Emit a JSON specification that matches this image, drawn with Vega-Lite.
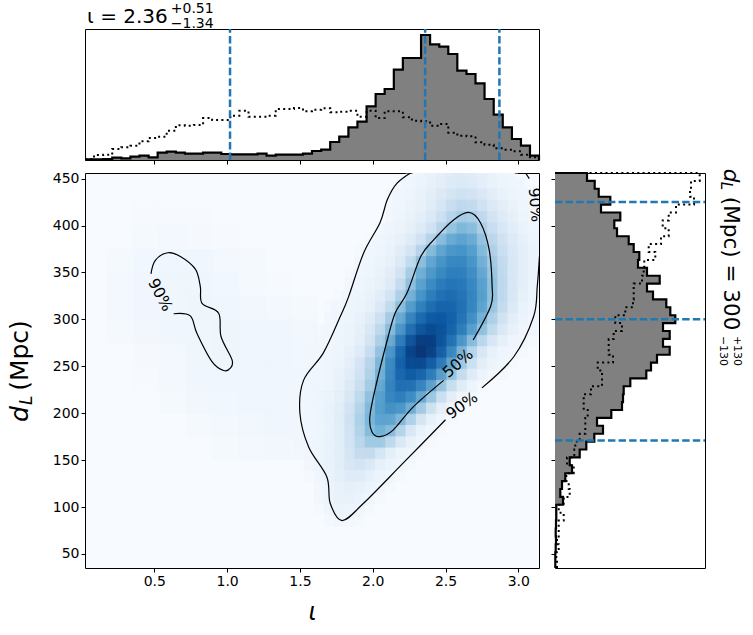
{"$schema":"https://vega.github.io/schema/vega-lite/v6.json","padding":{"left":7,"top":1,"right":0,"bottom":0},"background":"white","config":{"font":"DejaVu Sans","view":{"stroke":"black","strokeWidth":1},"axis":{"grid":false,"domain":false,"tickColor":"black","tickSize":4,"tickWidth":1,"labelColor":"black","labelFontSize":14,"labelFont":"DejaVu Sans","titleFont":"DejaVu Sans","titleColor":"black"}},"datasets":{"top":[{"x":0.024,"h":0.7,"t":1},{"x":0.086,"h":0.7,"t":5},{"x":0.149,"h":1,"t":5.3},{"x":0.211,"h":2.3,"t":11},{"x":0.273,"h":1.7,"t":12.7},{"x":0.336,"h":3.3,"t":14.3},{"x":0.398,"h":4.3,"t":18.7},{"x":0.461,"h":2.7,"t":22},{"x":0.523,"h":7.3,"t":23.3},{"x":0.585,"h":8.3,"t":29.3},{"x":0.648,"h":7.3,"t":34.7},{"x":0.71,"h":6.3,"t":34.3},{"x":0.772,"h":6.3,"t":35},{"x":0.835,"h":7.3,"t":42},{"x":0.897,"h":7.3,"t":40},{"x":0.96,"h":6,"t":40},{"x":1.022,"h":5.7,"t":44.3},{"x":1.084,"h":5.7,"t":49.3},{"x":1.147,"h":5.7,"t":43.3},{"x":1.209,"h":6.3,"t":43.3},{"x":1.271,"h":4.3,"t":44.3},{"x":1.334,"h":5.3,"t":51},{"x":1.396,"h":5.3,"t":51},{"x":1.459,"h":5.3,"t":52},{"x":1.521,"h":6.3,"t":48.7},{"x":1.583,"h":9,"t":50.3},{"x":1.646,"h":10.3,"t":51.7},{"x":1.708,"h":18,"t":47.7},{"x":1.77,"h":23.3,"t":48.3},{"x":1.833,"h":32.7,"t":49.3},{"x":1.895,"h":38.3,"t":43.3},{"x":1.958,"h":53.7,"t":49.3},{"x":2.02,"h":66,"t":42},{"x":2.082,"h":71,"t":48.7},{"x":2.145,"h":90.3,"t":48.7},{"x":2.207,"h":102,"t":42.7},{"x":2.269,"h":102,"t":39.3},{"x":2.332,"h":125,"t":38.7},{"x":2.394,"h":115.7,"t":34.3},{"x":2.457,"h":113.3,"t":36},{"x":2.519,"h":106,"t":27.3},{"x":2.581,"h":89.3,"t":24.3},{"x":2.644,"h":86,"t":23.7},{"x":2.706,"h":76.7,"t":17.7},{"x":2.768,"h":61,"t":15.3},{"x":2.831,"h":45.3,"t":11.7},{"x":2.893,"h":32.7,"t":10.3},{"x":2.956,"h":21,"t":8.7},{"x":3.018,"h":14.3,"t":5.3},{"x":3.08,"h":4.3,"t":2.7},{"x":3.142,"h":0,"t":0}],"side":[{"y":35,"g":0.3,"t":2},{"y":43.4,"g":0.3,"t":1.3},{"y":51.8,"g":0.7,"t":3.7},{"y":60.3,"g":1,"t":2},{"y":68.7,"g":0.7,"t":3.7},{"y":77.1,"g":1,"t":3.7},{"y":85.5,"g":1.3,"t":8.7},{"y":93.9,"g":1.3,"t":3.7},{"y":102.4,"g":8,"t":8.7},{"y":110.8,"g":5.3,"t":14.7},{"y":119.2,"g":7,"t":13.7},{"y":127.6,"g":10.3,"t":11.3},{"y":136,"g":17,"t":18.7},{"y":144.5,"g":14.7,"t":12},{"y":152.9,"g":24.7,"t":19.3},{"y":161.3,"g":31.3,"t":20.3},{"y":169.7,"g":39.3,"t":24.7},{"y":178.1,"g":48,"t":30.3},{"y":186.6,"g":42,"t":30.3},{"y":195,"g":56.3,"t":32.7},{"y":203.4,"g":67,"t":28.7},{"y":211.8,"g":68,"t":28.7},{"y":220.2,"g":68.7,"t":36},{"y":228.7,"g":75.3,"t":47},{"y":237.1,"g":91.3,"t":47},{"y":245.5,"g":96,"t":42.7},{"y":253.9,"g":102,"t":58},{"y":262.3,"g":114.7,"t":53.7},{"y":270.8,"g":108,"t":53.7},{"y":279.2,"g":114.7,"t":58.7},{"y":287.6,"g":108,"t":67},{"y":296,"g":120.3,"t":60.3},{"y":304.4,"g":115.3,"t":70.3},{"y":312.9,"g":111.3,"t":78},{"y":321.3,"g":98,"t":78.7},{"y":329.7,"g":92,"t":78.7},{"y":338.1,"g":104.7,"t":87},{"y":346.5,"g":92,"t":88.7},{"y":355,"g":83,"t":89.3},{"y":363.4,"g":84.3,"t":100.3},{"y":371.8,"g":78.7,"t":93.7},{"y":380.2,"g":73.7,"t":106},{"y":388.6,"g":62,"t":113.7},{"y":397.1,"g":59.3,"t":107.7},{"y":405.5,"g":65.3,"t":113.7},{"y":413.9,"g":46,"t":121},{"y":422.3,"g":55.3,"t":139},{"y":430.7,"g":43.7,"t":135},{"y":439.2,"g":39.7,"t":136},{"y":447.6,"g":32,"t":144.7},{"y":456,"g":0,"t":0}],"coarse":[{"x":0.54,"y":400,"v":1},{"x":0.72,"y":400,"v":1},{"x":0.54,"y":375,"v":2},{"x":0.72,"y":375,"v":2},{"x":0.9,"y":375,"v":1},{"x":0.36,"y":350,"v":2},{"x":0.54,"y":350,"v":3},{"x":0.72,"y":350,"v":4},{"x":0.9,"y":350,"v":3},{"x":1.08,"y":350,"v":2},{"x":0.36,"y":325,"v":2},{"x":0.54,"y":325,"v":3},{"x":0.72,"y":325,"v":4},{"x":0.9,"y":325,"v":3},{"x":1.08,"y":325,"v":2},{"x":1.26,"y":325,"v":1},{"x":0.36,"y":300,"v":2},{"x":0.54,"y":300,"v":3},{"x":0.72,"y":300,"v":4},{"x":0.9,"y":300,"v":4},{"x":1.08,"y":300,"v":3},{"x":1.26,"y":300,"v":2},{"x":1.44,"y":300,"v":2},{"x":0.54,"y":275,"v":2},{"x":0.72,"y":275,"v":3},{"x":0.9,"y":275,"v":4},{"x":1.08,"y":275,"v":4},{"x":1.26,"y":275,"v":3},{"x":1.44,"y":275,"v":3},{"x":0.54,"y":250,"v":1},{"x":0.72,"y":250,"v":2},{"x":0.9,"y":250,"v":4},{"x":1.08,"y":250,"v":4},{"x":1.26,"y":250,"v":3},{"x":1.44,"y":250,"v":3},{"x":0.72,"y":225,"v":2},{"x":0.9,"y":225,"v":3},{"x":1.08,"y":225,"v":3},{"x":1.26,"y":225,"v":3},{"x":1.44,"y":225,"v":3},{"x":0.9,"y":200,"v":2},{"x":1.08,"y":200,"v":2},{"x":1.26,"y":200,"v":3},{"x":1.44,"y":200,"v":3},{"x":1.08,"y":175,"v":2},{"x":1.26,"y":175,"v":2},{"x":1.44,"y":175,"v":3}],"cells":[{"x":1.75,"y":96,"v":4},{"x":1.82,"y":96,"v":4},{"x":1.89,"y":96,"v":3},{"x":1.68,"y":108,"v":3},{"x":1.75,"y":108,"v":5},{"x":1.82,"y":108,"v":5},{"x":1.89,"y":108,"v":4},{"x":1.96,"y":108,"v":3},{"x":1.68,"y":120,"v":3},{"x":1.75,"y":120,"v":5},{"x":1.82,"y":120,"v":6},{"x":1.89,"y":120,"v":6},{"x":1.96,"y":120,"v":4},{"x":2.03,"y":120,"v":3},{"x":1.68,"y":132,"v":3},{"x":1.75,"y":132,"v":5},{"x":1.82,"y":132,"v":7},{"x":1.89,"y":132,"v":8},{"x":1.96,"y":132,"v":6},{"x":2.03,"y":132,"v":4},{"x":2.1,"y":132,"v":3},{"x":1.61,"y":144,"v":3},{"x":1.68,"y":144,"v":4},{"x":1.75,"y":144,"v":6},{"x":1.82,"y":144,"v":9},{"x":1.89,"y":144,"v":11},{"x":1.96,"y":144,"v":10},{"x":2.03,"y":144,"v":6},{"x":2.1,"y":144,"v":4},{"x":2.17,"y":144,"v":3},{"x":1.61,"y":156,"v":3},{"x":1.68,"y":156,"v":4},{"x":1.75,"y":156,"v":6},{"x":1.82,"y":156,"v":10},{"x":1.89,"y":156,"v":15},{"x":1.96,"y":156,"v":16},{"x":2.03,"y":156,"v":11},{"x":2.1,"y":156,"v":6},{"x":2.17,"y":156,"v":4},{"x":2.24,"y":156,"v":3},{"x":1.54,"y":168,"v":3},{"x":1.61,"y":168,"v":3},{"x":1.68,"y":168,"v":4},{"x":1.75,"y":168,"v":6},{"x":1.82,"y":168,"v":10},{"x":1.89,"y":168,"v":17},{"x":1.96,"y":168,"v":24},{"x":2.03,"y":168,"v":22},{"x":2.1,"y":168,"v":13},{"x":2.17,"y":168,"v":7},{"x":2.24,"y":168,"v":4},{"x":2.31,"y":168,"v":3},{"x":1.54,"y":180,"v":3},{"x":1.61,"y":180,"v":3},{"x":1.68,"y":180,"v":4},{"x":1.75,"y":180,"v":6},{"x":1.82,"y":180,"v":10},{"x":1.89,"y":180,"v":18},{"x":1.96,"y":180,"v":28},{"x":2.03,"y":180,"v":36},{"x":2.1,"y":180,"v":35},{"x":2.17,"y":180,"v":22},{"x":2.24,"y":180,"v":11},{"x":2.31,"y":180,"v":5},{"x":2.38,"y":180,"v":3},{"x":1.54,"y":192,"v":3},{"x":1.61,"y":192,"v":3},{"x":1.68,"y":192,"v":4},{"x":1.75,"y":192,"v":6},{"x":1.82,"y":192,"v":10},{"x":1.89,"y":192,"v":19},{"x":1.96,"y":192,"v":31},{"x":2.03,"y":192,"v":42},{"x":2.1,"y":192,"v":44},{"x":2.17,"y":192,"v":37},{"x":2.24,"y":192,"v":22},{"x":2.31,"y":192,"v":10},{"x":2.38,"y":192,"v":5},{"x":2.45,"y":192,"v":3},{"x":1.54,"y":204,"v":3},{"x":1.61,"y":204,"v":3},{"x":1.68,"y":204,"v":4},{"x":1.75,"y":204,"v":6},{"x":1.82,"y":204,"v":11},{"x":1.89,"y":204,"v":20},{"x":1.96,"y":204,"v":32},{"x":2.03,"y":204,"v":44},{"x":2.1,"y":204,"v":50},{"x":2.17,"y":204,"v":48},{"x":2.24,"y":204,"v":39},{"x":2.31,"y":204,"v":25},{"x":2.38,"y":204,"v":12},{"x":2.45,"y":204,"v":5},{"x":2.52,"y":204,"v":3},{"x":1.54,"y":216,"v":3},{"x":1.61,"y":216,"v":3},{"x":1.68,"y":216,"v":4},{"x":1.75,"y":216,"v":6},{"x":1.82,"y":216,"v":10},{"x":1.89,"y":216,"v":17},{"x":1.96,"y":216,"v":28},{"x":2.03,"y":216,"v":42},{"x":2.1,"y":216,"v":54},{"x":2.17,"y":216,"v":58},{"x":2.24,"y":216,"v":54},{"x":2.31,"y":216,"v":43},{"x":2.38,"y":216,"v":28},{"x":2.45,"y":216,"v":14},{"x":2.52,"y":216,"v":6},{"x":2.59,"y":216,"v":3},{"x":1.54,"y":228,"v":3},{"x":1.61,"y":228,"v":3},{"x":1.68,"y":228,"v":4},{"x":1.75,"y":228,"v":5},{"x":1.82,"y":228,"v":8},{"x":1.89,"y":228,"v":14},{"x":1.96,"y":228,"v":24},{"x":2.03,"y":228,"v":38},{"x":2.1,"y":228,"v":54},{"x":2.17,"y":228,"v":64},{"x":2.24,"y":228,"v":65},{"x":2.31,"y":228,"v":56},{"x":2.38,"y":228,"v":44},{"x":2.45,"y":228,"v":30},{"x":2.52,"y":228,"v":15},{"x":2.59,"y":228,"v":7},{"x":2.66,"y":228,"v":3},{"x":1.54,"y":240,"v":3},{"x":1.61,"y":240,"v":3},{"x":1.68,"y":240,"v":3},{"x":1.75,"y":240,"v":5},{"x":1.82,"y":240,"v":7},{"x":1.89,"y":240,"v":12},{"x":1.96,"y":240,"v":20},{"x":2.03,"y":240,"v":33},{"x":2.1,"y":240,"v":50},{"x":2.17,"y":240,"v":67},{"x":2.24,"y":240,"v":74},{"x":2.31,"y":240,"v":71},{"x":2.38,"y":240,"v":60},{"x":2.45,"y":240,"v":47},{"x":2.52,"y":240,"v":31},{"x":2.59,"y":240,"v":17},{"x":2.66,"y":240,"v":8},{"x":2.73,"y":240,"v":3},{"x":1.61,"y":252,"v":3},{"x":1.68,"y":252,"v":3},{"x":1.75,"y":252,"v":4},{"x":1.82,"y":252,"v":6},{"x":1.89,"y":252,"v":10},{"x":1.96,"y":252,"v":18},{"x":2.03,"y":252,"v":30},{"x":2.1,"y":252,"v":47},{"x":2.17,"y":252,"v":66},{"x":2.24,"y":252,"v":80},{"x":2.31,"y":252,"v":83},{"x":2.38,"y":252,"v":76},{"x":2.45,"y":252,"v":63},{"x":2.52,"y":252,"v":47},{"x":2.59,"y":252,"v":31},{"x":2.66,"y":252,"v":17},{"x":2.73,"y":252,"v":8},{"x":2.8,"y":252,"v":4},{"x":2.87,"y":252,"v":3},{"x":1.61,"y":264,"v":3},{"x":1.68,"y":264,"v":3},{"x":1.75,"y":264,"v":4},{"x":1.82,"y":264,"v":5},{"x":1.89,"y":264,"v":9},{"x":1.96,"y":264,"v":16},{"x":2.03,"y":264,"v":28},{"x":2.1,"y":264,"v":45},{"x":2.17,"y":264,"v":66},{"x":2.24,"y":264,"v":85},{"x":2.31,"y":264,"v":93},{"x":2.38,"y":264,"v":90},{"x":2.45,"y":264,"v":78},{"x":2.52,"y":264,"v":62},{"x":2.59,"y":264,"v":43},{"x":2.66,"y":264,"v":27},{"x":2.73,"y":264,"v":14},{"x":2.8,"y":264,"v":7},{"x":2.87,"y":264,"v":4},{"x":2.94,"y":264,"v":3},{"x":1.68,"y":276,"v":3},{"x":1.75,"y":276,"v":3},{"x":1.82,"y":276,"v":4},{"x":1.89,"y":276,"v":6},{"x":1.96,"y":276,"v":10},{"x":2.03,"y":276,"v":21},{"x":2.1,"y":276,"v":37},{"x":2.17,"y":276,"v":59},{"x":2.24,"y":276,"v":81},{"x":2.31,"y":276,"v":96},{"x":2.38,"y":276,"v":100},{"x":2.45,"y":276,"v":91},{"x":2.52,"y":276,"v":74},{"x":2.59,"y":276,"v":54},{"x":2.66,"y":276,"v":35},{"x":2.73,"y":276,"v":20},{"x":2.8,"y":276,"v":10},{"x":2.87,"y":276,"v":5},{"x":2.94,"y":276,"v":3},{"x":3.01,"y":276,"v":3},{"x":1.68,"y":288,"v":3},{"x":1.75,"y":288,"v":3},{"x":1.82,"y":288,"v":4},{"x":1.89,"y":288,"v":5},{"x":1.96,"y":288,"v":9},{"x":2.03,"y":288,"v":17},{"x":2.1,"y":288,"v":30},{"x":2.17,"y":288,"v":48},{"x":2.24,"y":288,"v":68},{"x":2.31,"y":288,"v":86},{"x":2.38,"y":288,"v":94},{"x":2.45,"y":288,"v":90},{"x":2.52,"y":288,"v":79},{"x":2.59,"y":288,"v":65},{"x":2.66,"y":288,"v":50},{"x":2.73,"y":288,"v":35},{"x":2.8,"y":288,"v":21},{"x":2.87,"y":288,"v":11},{"x":2.94,"y":288,"v":6},{"x":3.01,"y":288,"v":3},{"x":3.08,"y":288,"v":3},{"x":1.75,"y":300,"v":3},{"x":1.82,"y":300,"v":4},{"x":1.89,"y":300,"v":5},{"x":1.96,"y":300,"v":8},{"x":2.03,"y":300,"v":14},{"x":2.1,"y":300,"v":25},{"x":2.17,"y":300,"v":39},{"x":2.24,"y":300,"v":56},{"x":2.31,"y":300,"v":71},{"x":2.38,"y":300,"v":82},{"x":2.45,"y":300,"v":86},{"x":2.52,"y":300,"v":82},{"x":2.59,"y":300,"v":72},{"x":2.66,"y":300,"v":60},{"x":2.73,"y":300,"v":46},{"x":2.8,"y":300,"v":31},{"x":2.87,"y":300,"v":19},{"x":2.94,"y":300,"v":10},{"x":3.01,"y":300,"v":5},{"x":3.08,"y":300,"v":3},{"x":3.15,"y":300,"v":3},{"x":1.75,"y":312,"v":3},{"x":1.82,"y":312,"v":3},{"x":1.89,"y":312,"v":4},{"x":1.96,"y":312,"v":6},{"x":2.03,"y":312,"v":10},{"x":2.1,"y":312,"v":18},{"x":2.17,"y":312,"v":33},{"x":2.24,"y":312,"v":48},{"x":2.31,"y":312,"v":63},{"x":2.38,"y":312,"v":73},{"x":2.45,"y":312,"v":79},{"x":2.52,"y":312,"v":80},{"x":2.59,"y":312,"v":74},{"x":2.66,"y":312,"v":64},{"x":2.73,"y":312,"v":51},{"x":2.8,"y":312,"v":36},{"x":2.87,"y":312,"v":22},{"x":2.94,"y":312,"v":12},{"x":3.01,"y":312,"v":6},{"x":3.08,"y":312,"v":4},{"x":3.15,"y":312,"v":3},{"x":1.82,"y":324,"v":3},{"x":1.89,"y":324,"v":4},{"x":1.96,"y":324,"v":5},{"x":2.03,"y":324,"v":7},{"x":2.1,"y":324,"v":12},{"x":2.17,"y":324,"v":22},{"x":2.24,"y":324,"v":38},{"x":2.31,"y":324,"v":51},{"x":2.38,"y":324,"v":62},{"x":2.45,"y":324,"v":70},{"x":2.52,"y":324,"v":74},{"x":2.59,"y":324,"v":72},{"x":2.66,"y":324,"v":66},{"x":2.73,"y":324,"v":56},{"x":2.8,"y":324,"v":42},{"x":2.87,"y":324,"v":28},{"x":2.94,"y":324,"v":16},{"x":3.01,"y":324,"v":8},{"x":3.08,"y":324,"v":4},{"x":3.15,"y":324,"v":3},{"x":1.89,"y":336,"v":3},{"x":1.96,"y":336,"v":4},{"x":2.03,"y":336,"v":6},{"x":2.1,"y":336,"v":9},{"x":2.17,"y":336,"v":15},{"x":2.24,"y":336,"v":30},{"x":2.31,"y":336,"v":44},{"x":2.38,"y":336,"v":55},{"x":2.45,"y":336,"v":64},{"x":2.52,"y":336,"v":69},{"x":2.59,"y":336,"v":69},{"x":2.66,"y":336,"v":64},{"x":2.73,"y":336,"v":55},{"x":2.8,"y":336,"v":43},{"x":2.87,"y":336,"v":28},{"x":2.94,"y":336,"v":17},{"x":3.01,"y":336,"v":10},{"x":3.08,"y":336,"v":5},{"x":3.15,"y":336,"v":4},{"x":1.89,"y":348,"v":3},{"x":1.96,"y":348,"v":3},{"x":2.03,"y":348,"v":5},{"x":2.1,"y":348,"v":7},{"x":2.17,"y":348,"v":11},{"x":2.24,"y":348,"v":23},{"x":2.31,"y":348,"v":38},{"x":2.38,"y":348,"v":50},{"x":2.45,"y":348,"v":58},{"x":2.52,"y":348,"v":64},{"x":2.59,"y":348,"v":66},{"x":2.66,"y":348,"v":62},{"x":2.73,"y":348,"v":54},{"x":2.8,"y":348,"v":42},{"x":2.87,"y":348,"v":28},{"x":2.94,"y":348,"v":17},{"x":3.01,"y":348,"v":10},{"x":3.08,"y":348,"v":6},{"x":3.15,"y":348,"v":4},{"x":1.96,"y":360,"v":3},{"x":2.03,"y":360,"v":4},{"x":2.1,"y":360,"v":6},{"x":2.17,"y":360,"v":9},{"x":2.24,"y":360,"v":17},{"x":2.31,"y":360,"v":33},{"x":2.38,"y":360,"v":44},{"x":2.45,"y":360,"v":52},{"x":2.52,"y":360,"v":58},{"x":2.59,"y":360,"v":62},{"x":2.66,"y":360,"v":59},{"x":2.73,"y":360,"v":51},{"x":2.8,"y":360,"v":38},{"x":2.87,"y":360,"v":26},{"x":2.94,"y":360,"v":17},{"x":3.01,"y":360,"v":10},{"x":3.08,"y":360,"v":6},{"x":3.15,"y":360,"v":4},{"x":1.96,"y":372,"v":3},{"x":2.03,"y":372,"v":3},{"x":2.1,"y":372,"v":5},{"x":2.17,"y":372,"v":7},{"x":2.24,"y":372,"v":12},{"x":2.31,"y":372,"v":22},{"x":2.38,"y":372,"v":38},{"x":2.45,"y":372,"v":47},{"x":2.52,"y":372,"v":54},{"x":2.59,"y":372,"v":58},{"x":2.66,"y":372,"v":56},{"x":2.73,"y":372,"v":48},{"x":2.8,"y":372,"v":35},{"x":2.87,"y":372,"v":24},{"x":2.94,"y":372,"v":16},{"x":3.01,"y":372,"v":10},{"x":3.08,"y":372,"v":6},{"x":3.15,"y":372,"v":4},{"x":2.03,"y":384,"v":3},{"x":2.1,"y":384,"v":4},{"x":2.17,"y":384,"v":6},{"x":2.24,"y":384,"v":9},{"x":2.31,"y":384,"v":14},{"x":2.38,"y":384,"v":25},{"x":2.45,"y":384,"v":38},{"x":2.52,"y":384,"v":46},{"x":2.59,"y":384,"v":51},{"x":2.66,"y":384,"v":51},{"x":2.73,"y":384,"v":44},{"x":2.8,"y":384,"v":30},{"x":2.87,"y":384,"v":21},{"x":2.94,"y":384,"v":14},{"x":3.01,"y":384,"v":9},{"x":3.08,"y":384,"v":6},{"x":3.15,"y":384,"v":4},{"x":2.1,"y":396,"v":3},{"x":2.17,"y":396,"v":5},{"x":2.24,"y":396,"v":7},{"x":2.31,"y":396,"v":10},{"x":2.38,"y":396,"v":15},{"x":2.45,"y":396,"v":24},{"x":2.52,"y":396,"v":37},{"x":2.59,"y":396,"v":43},{"x":2.66,"y":396,"v":45},{"x":2.73,"y":396,"v":38},{"x":2.8,"y":396,"v":26},{"x":2.87,"y":396,"v":18},{"x":2.94,"y":396,"v":12},{"x":3.01,"y":396,"v":8},{"x":3.08,"y":396,"v":5},{"x":3.15,"y":396,"v":4},{"x":2.17,"y":408,"v":3},{"x":2.24,"y":408,"v":5},{"x":2.31,"y":408,"v":7},{"x":2.38,"y":408,"v":10},{"x":2.45,"y":408,"v":15},{"x":2.52,"y":408,"v":23},{"x":2.59,"y":408,"v":32},{"x":2.66,"y":408,"v":36},{"x":2.73,"y":408,"v":30},{"x":2.8,"y":408,"v":21},{"x":2.87,"y":408,"v":14},{"x":2.94,"y":408,"v":10},{"x":3.01,"y":408,"v":6},{"x":3.08,"y":408,"v":4},{"x":3.15,"y":408,"v":3},{"x":2.17,"y":420,"v":3},{"x":2.24,"y":420,"v":4},{"x":2.31,"y":420,"v":6},{"x":2.38,"y":420,"v":8},{"x":2.45,"y":420,"v":12},{"x":2.52,"y":420,"v":18},{"x":2.59,"y":420,"v":25},{"x":2.66,"y":420,"v":27},{"x":2.73,"y":420,"v":23},{"x":2.8,"y":420,"v":16},{"x":2.87,"y":420,"v":11},{"x":2.94,"y":420,"v":8},{"x":3.01,"y":420,"v":5},{"x":3.08,"y":420,"v":3},{"x":2.17,"y":432,"v":3},{"x":2.24,"y":432,"v":3},{"x":2.31,"y":432,"v":5},{"x":2.38,"y":432,"v":7},{"x":2.45,"y":432,"v":10},{"x":2.52,"y":432,"v":14},{"x":2.59,"y":432,"v":19},{"x":2.66,"y":432,"v":20},{"x":2.73,"y":432,"v":17},{"x":2.8,"y":432,"v":12},{"x":2.87,"y":432,"v":8},{"x":2.94,"y":432,"v":6},{"x":3.01,"y":432,"v":4},{"x":3.08,"y":432,"v":3},{"x":2.24,"y":444,"v":3},{"x":2.31,"y":444,"v":4},{"x":2.38,"y":444,"v":6},{"x":2.45,"y":444,"v":8},{"x":2.52,"y":444,"v":11},{"x":2.59,"y":444,"v":14},{"x":2.66,"y":444,"v":14},{"x":2.73,"y":444,"v":12},{"x":2.8,"y":444,"v":9},{"x":2.87,"y":444,"v":6},{"x":2.94,"y":444,"v":4},{"x":3.01,"y":444,"v":3},{"x":2.31,"y":456,"v":3},{"x":2.38,"y":456,"v":5},{"x":2.45,"y":456,"v":6},{"x":2.52,"y":456,"v":8},{"x":2.59,"y":456,"v":10},{"x":2.66,"y":456,"v":10},{"x":2.73,"y":456,"v":8},{"x":2.8,"y":456,"v":6},{"x":2.87,"y":456,"v":4},{"x":2.94,"y":456,"v":3}],"lines":[{"s":"a","o":1,"x":2.28,"y":458},{"s":"a","o":2,"x":2.166,"y":445},{"s":"a","o":3,"x":2.1,"y":427.5},{"s":"a","o":4,"x":2.05,"y":403},{"s":"a","o":5,"x":1.937,"y":370.5},{"s":"a","o":6,"x":1.834,"y":324},{"s":"a","o":7,"x":1.777,"y":303},{"s":"a","o":8,"x":1.66,"y":264},{"s":"a","o":9,"x":1.525,"y":235},{"s":"a","o":10,"x":1.5,"y":200},{"s":"a","o":11,"x":1.56,"y":164},{"s":"a","o":12,"x":1.685,"y":132},{"s":"a","o":13,"x":1.708,"y":104},{"s":"a","o":14,"x":1.79,"y":85.6},{"s":"a","o":15,"x":1.937,"y":104},{"s":"a","o":16,"x":2.21,"y":147},{"s":"a","o":17,"x":2.5,"y":193},{"s":"b","o":1,"x":2.75,"y":227},{"s":"b","o":2,"x":2.97,"y":260.4},{"s":"b","o":3,"x":3.105,"y":303},{"s":"b","o":4,"x":3.13,"y":335},{"s":"b","o":5,"x":3.145,"y":367},{"s":"c","o":1,"x":3.05,"y":456},{"s":"c","o":2,"x":3.075,"y":450},{"s":"d","o":1,"x":2.69,"y":278},{"s":"d","o":2,"x":2.81,"y":314},{"s":"d","o":3,"x":2.82,"y":335},{"s":"d","o":4,"x":2.8,"y":374},{"s":"d","o":5,"x":2.74,"y":403},{"s":"d","o":6,"x":2.66,"y":414},{"s":"d","o":7,"x":2.555,"y":406},{"s":"d","o":8,"x":2.42,"y":385},{"s":"d","o":9,"x":2.33,"y":367},{"s":"d","o":10,"x":2.235,"y":328},{"s":"d","o":11,"x":2.155,"y":307},{"s":"d","o":12,"x":2.1,"y":278},{"s":"d","o":13,"x":2.02,"y":228},{"s":"d","o":14,"x":1.98,"y":196},{"s":"d","o":15,"x":1.995,"y":180},{"s":"d","o":16,"x":2.05,"y":175},{"s":"d","o":17,"x":2.14,"y":182},{"s":"d","o":18,"x":2.28,"y":207},{"s":"d","o":19,"x":2.487,"y":235},{"s":"e","o":1,"x":0.477,"y":348.5},{"s":"e","o":2,"x":0.507,"y":363},{"s":"e","o":3,"x":0.592,"y":371},{"s":"e","o":4,"x":0.679,"y":367},{"s":"e","o":5,"x":0.782,"y":353.5},{"s":"e","o":6,"x":0.816,"y":335},{"s":"e","o":7,"x":0.828,"y":317},{"s":"e","o":8,"x":0.942,"y":306.6},{"s":"e","o":9,"x":0.958,"y":281.7},{"s":"e","o":10,"x":1.034,"y":256.8},{"s":"e","o":11,"x":1.022,"y":248},{"s":"e","o":12,"x":0.976,"y":245.5},{"s":"e","o":13,"x":0.896,"y":255},{"s":"e","o":14,"x":0.793,"y":285},{"s":"e","o":15,"x":0.747,"y":303.7},{"s":"e","o":16,"x":0.633,"y":306}]},"vconcat":[{"width":454,"height":131,"layer":[{"data":{"name":"top"},"mark":{"type":"area","interpolate":"step-after","fill":"#808080"},"encoding":{"x":{"field":"x","type":"quantitative","scale":{"domain":[0.024,3.142],"nice":false,"zero":false},"axis":{"values":[0.5,1,1.5,2,2.5,3],"labels":false,"title":null}},"y":{"field":"h","type":"quantitative","scale":{"domain":[0,131],"nice":false},"axis":null}}},{"data":{"name":"top"},"mark":{"type":"line","interpolate":"step-after","stroke":"black","strokeWidth":2,"strokeDash":[2,3.3]},"encoding":{"x":{"field":"x","type":"quantitative"},"y":{"field":"t","type":"quantitative"}}},{"data":{"name":"top"},"mark":{"type":"line","interpolate":"step-after","stroke":"black","strokeWidth":2.2},"encoding":{"x":{"field":"x","type":"quantitative"},"y":{"field":"h","type":"quantitative"}}},{"data":{"values":[{"x":1.02},{"x":2.36},{"x":2.87}]},"mark":{"type":"rule","stroke":"#1f77b4","strokeWidth":2.5,"strokeDash":[7.4,3.2]},"encoding":{"x":{"field":"x","type":"quantitative"},"y":{"datum":0},"y2":{"datum":131}}},{"data":{"values":[{"x":0.038,"y":137,"t":"ι = 2.36"}]},"mark":{"type":"text","fontSize":20,"align":"left","baseline":"alphabetic","color":"black"},"encoding":{"x":{"field":"x","type":"quantitative"},"y":{"field":"y","type":"quantitative"},"text":{"field":"t"}}},{"data":{"values":[{"x":0.613,"y":147.2,"t":"+0.51"},{"x":0.613,"y":131.8,"t":"−1.34"}]},"mark":{"type":"text","fontSize":14,"align":"left","baseline":"alphabetic","color":"black"},"encoding":{"x":{"field":"x","type":"quantitative"},"y":{"field":"y","type":"quantitative"},"text":{"field":"t"}}}]},{"hconcat":[{"width":454,"height":395,"view":{"fill":"#f7fbff"},"layer":[{"data":{"name":"coarse"},"mark":{"type":"rect","width":53,"height":47,"opacity":0.5,"clip":true},"encoding":{"x":{"field":"x","type":"quantitative","scale":{"domain":[0.024,3.142],"nice":false,"zero":false},"axis":{"values":[0.5,1,1.5,2,2.5,3],"format":".1f","title":"ι","titleFontSize":24,"titleFontStyle":"italic","titleFontWeight":"normal","titlePadding":12}},"y":{"field":"y","type":"quantitative","scale":{"domain":[35,456],"nice":false,"zero":false},"axis":{"values":[50,100,150,200,250,300,350,400,450],"title":null}},"color":{"field":"v","type":"quantitative","scale":{"domain":[0,10,20,31,42,54,68,85,100],"range":["#f7fbff","#deebf7","#c6dbef","#9ecae1","#6baed6","#4292c6","#2171b5","#08519c","#08306b"]},"legend":null}}},{"data":{"name":"cells"},"mark":{"type":"rect","width":10.5,"height":11.6,"clip":true},"encoding":{"x":{"field":"x","type":"quantitative"},"y":{"field":"y","type":"quantitative"},"color":{"field":"v","type":"quantitative","legend":null}}},{"data":{"name":"cells"},"mark":{"type":"rect","width":20.6,"height":23,"opacity":0.42,"xOffset":-2,"yOffset":4,"clip":true},"encoding":{"x":{"field":"x","type":"quantitative"},"y":{"field":"y","type":"quantitative"},"color":{"field":"v","type":"quantitative","legend":null}}},{"data":{"name":"lines"},"mark":{"type":"line","interpolate":"cardinal","stroke":"black","strokeWidth":1.2,"clip":true},"encoding":{"x":{"field":"x","type":"quantitative"},"y":{"field":"y","type":"quantitative"},"detail":{"field":"s"},"order":{"field":"o","type":"quantitative"}}},{"data":{"values":[{"x":0.54,"y":326,"t":"90%"}]},"mark":{"type":"text","fontSize":15.5,"angle":62,"color":"black"},"encoding":{"x":{"field":"x","type":"quantitative"},"y":{"field":"y","type":"quantitative"},"text":{"field":"t"}}},{"data":{"values":[{"x":2.585,"y":253,"t":"50%"}]},"mark":{"type":"text","fontSize":15.5,"angle":319,"color":"black"},"encoding":{"x":{"field":"x","type":"quantitative"},"y":{"field":"y","type":"quantitative"},"text":{"field":"t"}}},{"data":{"values":[{"x":2.613,"y":208,"t":"90%"}]},"mark":{"type":"text","fontSize":15.5,"angle":324,"color":"black"},"encoding":{"x":{"field":"x","type":"quantitative"},"y":{"field":"y","type":"quantitative"},"text":{"field":"t"}}},{"data":{"values":[{"x":3.116,"y":422,"t":"90%"}]},"mark":{"type":"text","fontSize":15.5,"angle":85,"color":"black","clip":true},"encoding":{"x":{"field":"x","type":"quantitative"},"y":{"field":"y","type":"quantitative"},"text":{"field":"t"}}},{"data":{"values":[{"x":-0.367,"y":190.7,"t":"d"}]},"mark":{"type":"text","fontSize":25,"fontStyle":"italic","angle":270,"align":"left","baseline":"alphabetic","color":"black"},"encoding":{"x":{"field":"x","type":"quantitative"},"y":{"field":"y","type":"quantitative"},"text":{"field":"t"}}},{"data":{"values":[{"x":-0.34,"y":208.8,"t":"L"}]},"mark":{"type":"text","fontSize":17,"fontStyle":"italic","angle":270,"align":"left","baseline":"alphabetic","color":"black"},"encoding":{"x":{"field":"x","type":"quantitative"},"y":{"field":"y","type":"quantitative"},"text":{"field":"t"}}},{"data":{"values":[{"x":-0.367,"y":223.8,"t":"(Mpc)"}]},"mark":{"type":"text","fontSize":25,"angle":270,"align":"left","baseline":"alphabetic","color":"black"},"encoding":{"x":{"field":"x","type":"quantitative"},"y":{"field":"y","type":"quantitative"},"text":{"field":"t"}}}]},{"width":150,"height":395,"layer":[{"data":{"name":"side"},"mark":{"type":"area","orient":"horizontal","interpolate":"step-after","fill":"#808080"},"encoding":{"y":{"field":"y","type":"quantitative","scale":{"domain":[35,456],"nice":false,"zero":false},"axis":{"values":[50,100,150,200,250,300,350,400,450],"labels":false,"title":null}},"x":{"field":"g","type":"quantitative","scale":{"domain":[0,150],"nice":false},"axis":null,"stack":null}}},{"data":{"name":"side"},"mark":{"type":"line","orient":"horizontal","interpolate":"step-before","stroke":"black","strokeWidth":2,"strokeDash":[2,3.3]},"encoding":{"y":{"field":"y","type":"quantitative"},"x":{"field":"t","type":"quantitative"},"order":{"field":"y","type":"quantitative"}}},{"data":{"name":"side"},"mark":{"type":"line","orient":"horizontal","interpolate":"step-before","stroke":"black","strokeWidth":2.2},"encoding":{"y":{"field":"y","type":"quantitative"},"x":{"field":"g","type":"quantitative"},"order":{"field":"y","type":"quantitative"}}},{"data":{"values":[{"y":171},{"y":300},{"y":425}]},"mark":{"type":"rule","stroke":"#1f77b4","strokeWidth":2.5,"strokeDash":[7.4,3.2]},"encoding":{"y":{"field":"y","type":"quantitative"},"x":{"datum":0},"x2":{"datum":150}}},{"data":{"values":[{"x":169,"y":460.4,"t":"d"}]},"mark":{"type":"text","fontSize":21.5,"fontStyle":"italic","angle":90,"align":"left","baseline":"alphabetic","color":"black"},"encoding":{"x":{"field":"x","type":"quantitative"},"y":{"field":"y","type":"quantitative"},"text":{"field":"t"}}},{"data":{"values":[{"x":166,"y":446.7,"t":"L"}]},"mark":{"type":"text","fontSize":15,"fontStyle":"italic","angle":90,"align":"left","baseline":"alphabetic","color":"black"},"encoding":{"x":{"field":"x","type":"quantitative"},"y":{"field":"y","type":"quantitative"},"text":{"field":"t"}}},{"data":{"values":[{"x":169,"y":430.6,"t":"(Mpc) = 300"}]},"mark":{"type":"text","fontSize":21.5,"angle":90,"align":"left","baseline":"alphabetic","color":"black"},"encoding":{"x":{"field":"x","type":"quantitative"},"y":{"field":"y","type":"quantitative"},"text":{"field":"t"}}},{"data":{"values":[{"x":179,"y":282.4,"t":"+130"},{"x":165,"y":282.4,"t":"−130"}]},"mark":{"type":"text","fontSize":11,"angle":90,"align":"left","baseline":"alphabetic","color":"black"},"encoding":{"x":{"field":"x","type":"quantitative"},"y":{"field":"y","type":"quantitative"},"text":{"field":"t"}}}]}],"spacing":16,"bounds":"flush"}],"spacing":13,"bounds":"flush"}
